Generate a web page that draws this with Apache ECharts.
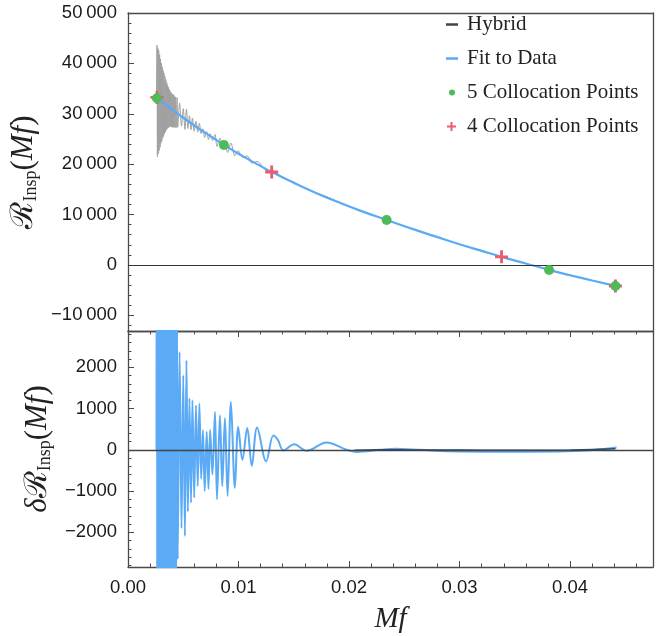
<!DOCTYPE html>
<html><head><meta charset="utf-8">
<script src="https://cdn.jsdelivr.net/npm/echarts@6/dist/echarts.min.js"></script>
<style>html,body{margin:0;padding:0;background:#fff}#c{width:670px;height:636px}</style>
</head><body><div id="c"></div>
<script>
// ---------- data ----------
const xTickValues = [0, 0.01, 0.02, 0.03, 0.04];
const xTickLabels = ['0.00', '0.01', '0.02', '0.03', '0.04'];
const xMinorTicks = [0.002, 0.004, 0.006, 0.008, 0.012, 0.014, 0.016, 0.018, 0.022, 0.024, 0.026, 0.028, 0.032, 0.034, 0.036, 0.038, 0.042, 0.044, 0.046];

const topYTicks = [-10000, 0, 10000, 20000, 30000, 40000, 50000];
const topYTickLabels = ['\u221210\u2009000', '0', '10\u2009000', '20\u2009000', '30\u2009000', '40\u2009000', '50\u2009000'];
const topYMinor = [-12000, -8000, -6000, -4000, -2000, 2000, 4000, 6000, 8000, 12000, 14000, 16000, 18000, 22000, 24000, 26000, 28000, 32000, 34000, 36000, 38000, 42000, 44000, 46000, 48000];

const botYTicks = [-2000, -1000, 0, 1000, 2000];
const botYTickLabels = ['\u22122000', '\u22121000', '0', '1000', '2000'];
const botYMinor = [-2800, -2600, -2400, -2200, -1800, -1600, -1400, -1200, -800, -600, -400, -200, 200, 400, 600, 800, 1200, 1400, 1600, 1800, 2200, 2400, 2600, 2800];

const fitX = [0.0026, 0.003, 0.004, 0.005, 0.006, 0.007, 0.008, 0.0087, 0.010, 0.011, 0.012, 0.013, 0.015, 0.017, 0.019, 0.021, 0.0234, 0.026, 0.028, 0.030, 0.032, 0.0338, 0.036, 0.0381, 0.040, 0.042, 0.0441];
const fitY = [33180, 32550, 30850, 29230, 27680, 26200, 24780, 23810, 22080, 20830, 19620, 18460, 16300, 14300, 12480, 10780, 8930, 6960, 5520, 4120, 2790, 1620, 300, -980, -2030, -3090, -4160];

const col5X = [0.00262, 0.00868, 0.0234, 0.0381, 0.0441];
const col5Y = [33100, 23810, 8930, -980, -4160];
const col4X = [0.00262, 0.0130, 0.0338, 0.0441];
const col4Y = [33250, 18450, 1620, -4160];

const hybridPts = [
[0.00258,33200],[0.00262,43630],[0.00266,21460],[0.00270,43000],[0.00274,22030],[0.00278,42560],
[0.00282,22700],[0.00286,41730],[0.00290,23360],[0.00294,40890],[0.00298,24130],[0.00302,40060],
[0.00306,24590],[0.00310,39330],[0.00314,25160],[0.00318,38590],[0.00322,25530],[0.00326,38060],
[0.00330,26000],[0.00334,37430],[0.00338,26360],[0.00342,36790],[0.00346,26730],[0.00350,36260],
[0.00354,26990],[0.00358,35730],[0.00362,27160],[0.00366,35290],[0.00370,27320],[0.00374,34860],
[0.00378,27390],[0.00382,34520],[0.00386,27460],[0.00390,34190],[0.00394,27420],[0.00398,33960],
[0.00402,27290],[0.00406,33920],[0.00410,27360],[0.00414,33690],[0.00418,27320],[0.00422,33460],
[0.00426,27290],[0.00430,33320],[0.00436,27220],[0.00444,33200],[0.00450,27350],[0.00467,32100],
[0.00484,27550],[0.00500,31010],[0.00515,26890],[0.00529,30940],[0.00542,27070],[0.00556,29610],
[0.00570,26870],[0.00583,29150],[0.00599,26550],[0.00615,28550],[0.00631,26360],[0.00646,28130],
[0.00662,26070],[0.00678,27010],[0.00694,25290],[0.00712,26460],[0.00728,24840],[0.00743,26060],
[0.00764,24690],[0.00787,25900],[0.00805,23530],[0.00832,25190],[0.00853,23180],[0.00877,24510],
[0.00901,22320],[0.00931,24210],[0.00967,21680],[0.00997,22680],[0.01035,21410],[0.01079,21630],
[0.01120,20210],[0.01168,20560],[0.01250,18760],[0.01315,18650],[0.01356,18100],[0.01406,17315],
[0.01503,16400],[0.01616,15075],[0.01797,13570],[0.01978,11800],[0.02100,10780],[0.02340,8930],
[0.02600,6960],[0.03000,4120],[0.03380,1620],[0.03810,-980],[0.04410,-4160]
];

const residualPts = [
[0.00258,0],[0.00262,10500],[0.00266,-11600],[0.00270,10000],[0.00274,-10900],[0.00278,9700],
[0.00282,-10100],[0.00286,9000],[0.00290,-9300],[0.00294,8300],[0.00298,-8400],[0.00302,7600],
[0.00306,-7800],[0.00310,7000],[0.00314,-7100],[0.00318,6400],[0.00322,-6600],[0.00326,6000],
[0.00330,-6000],[0.00334,5500],[0.00338,-5500],[0.00342,5000],[0.00346,-5000],[0.00350,4600],
[0.00354,-4600],[0.00358,4200],[0.00362,-4300],[0.00366,3900],[0.00370,-4000],[0.00374,3600],
[0.00378,-3800],[0.00382,3400],[0.00386,-3600],[0.00390,3200],[0.00394,-3500],[0.00398,3100],
[0.00402,-3500],[0.00406,3200],[0.00410,-3300],[0.00414,3100],[0.00418,-3200],[0.00422,3000],
[0.00426,-3100],[0.00430,3000],[0.00436,-3000],[0.00444,3100],[0.00450,-2650],[0.00467,2370],
[0.00484,-1900],[0.00500,1810],[0.00515,-2090],[0.00529,2170],[0.00542,-1500],[0.00556,1250],
[0.00570,-1280],[0.00583,1200],[0.00599,-1160],[0.00615,1080],[0.00631,-880],[0.00646,1120],
[0.00662,-700],[0.00678,480],[0.00694,-1000],[0.00712,440],[0.00728,-950],[0.00743,480],
[0.00764,-600],[0.00787,920],[0.00805,-1200],[0.00832,840],[0.00853,-880],[0.00877,770],
[0.00901,-1120],[0.00931,1160],[0.00967,-920],[0.00997,560],[0.01035,-240],[0.01079,530],
[0.01120,-390],[0.01168,540],[0.01250,-280],[0.01315,350],[0.01356,240],[0.01406,-15],
[0.01503,135],[0.01616,-25],[0.01797,180],[0.01978,0],[0.02070,-50],[0.02278,0],
[0.02414,25],[0.02640,0],[0.02910,-35],[0.03360,-45],[0.03900,-40],[0.04180,-10],[0.04420,55]
];

const darkResidualPts = [[0.0205,-10],[0.0228,5],[0.026,0],[0.030,-5],[0.035,-8],[0.040,0],[0.0441,25]];

// ---------- chart ----------
const BLUE = '#5aaaf5', GRAY = '#a0a0a0', GREEN = '#4cbb58', RED = '#eb5a6e', FRAME = '#4a4a4a';
const X_MIN = 0, X_MAX = 0.0475;
const plusPath = 'path://M3.9,0H6.1V3.9H10V6.1H6.1V10H3.9V6.1H0V3.9H3.9Z';
const tickFont = { fontFamily: 'Liberation Sans', fontSize: 18.5, color: '#1a1a1a' };
const lineStyleFrame = { color: FRAME, width: 1.3 };

function lookup(vals, labels) { return v => { const i = vals.findIndex(t => Math.abs(t - v) < 1e-9); return i >= 0 ? labels[i] : ''; }; }

function frameAxis(type, grid, pos, min, max) {
  return { type: 'value', gridIndex: grid, position: pos, min, max,
    axisLine: { show: true, onZero: false, lineStyle: lineStyleFrame },
    axisTick: { show: false }, axisLabel: { show: false }, splitLine: { show: false } };
}
function tickAxis(grid, pos, min, max, vals, len) {
  return { type: 'value', gridIndex: grid, position: pos, min, max,
    axisLine: { show: false, onZero: false },
    axisTick: { show: true, inside: true, length: len, customValues: vals, lineStyle: { color: FRAME, width: 1 } },
    axisLabel: { show: false }, splitLine: { show: false } };
}

const TOP_MIN = -13100, TOP_MAX = 50000, BOT_MIN = -2840, BOT_MAX = 2880;

const xAxes = [
  frameAxis('x', 0, 'bottom', X_MIN, X_MAX),
  frameAxis('x', 0, 'top', X_MIN, X_MAX),
  Object.assign(tickAxis(1, 'bottom', X_MIN, X_MAX, xTickValues, 6), {
    axisLine: { show: true, onZero: false, lineStyle: lineStyleFrame },
    axisLabel: Object.assign({ show: true, margin: 11, customValues: xTickValues, formatter: lookup(xTickValues, xTickLabels) }, tickFont),
    name: '{i|Mf}', nameLocation: 'middle', nameGap: 38,
    nameTextStyle: { rich: { i: { fontFamily: 'Liberation Serif', fontStyle: 'italic', fontSize: 29, color: '#222' } } }
  }),
  tickAxis(1, 'bottom', X_MIN, X_MAX, xMinorTicks, 3.5),
  Object.assign(tickAxis(1, 'top', X_MIN, X_MAX, xTickValues, 6), { axisLine: { show: true, onZero: false, lineStyle: lineStyleFrame } }),
  tickAxis(1, 'top', X_MIN, X_MAX, xMinorTicks, 3.5)
];

const yNameRich = {
  d: { fontFamily: 'Liberation Serif', fontStyle: 'italic', fontSize: 31, color: '#222', lineHeight: 32 },
  r: { fontFamily: 'DejaVu Serif', fontSize: 31, color: '#222', lineHeight: 32 },
  sub: { fontFamily: 'Liberation Serif', fontSize: 18, color: '#222', lineHeight: 17, verticalAlign: 'bottom' },
  p: { fontFamily: 'Liberation Serif', fontSize: 31, color: '#222', lineHeight: 32 },
  i: { fontFamily: 'Liberation Serif', fontStyle: 'italic', fontSize: 31, color: '#222', lineHeight: 32 }
};

const yAxes = [
  Object.assign(tickAxis(0, 'left', TOP_MIN, TOP_MAX, topYTicks, 6), {
    axisLine: { show: true, onZero: false, lineStyle: lineStyleFrame },
    axisLabel: Object.assign({ show: true, margin: 11, customValues: topYTicks, formatter: lookup(topYTicks, topYTickLabels) }, tickFont),
    name: '{r|ℛ}{sub|Insp}{p|(}{i|Mf}{p|)}', nameLocation: 'middle', nameRotate: 90, nameGap: 68,
    nameTextStyle: { rich: yNameRich }
  }),
  tickAxis(0, 'left', TOP_MIN, TOP_MAX, topYMinor, 3.5),
  frameAxis('y', 0, 'right', TOP_MIN, TOP_MAX),
  Object.assign(tickAxis(1, 'left', BOT_MIN, BOT_MAX, botYTicks, 6), {
    axisLine: { show: true, onZero: false, lineStyle: lineStyleFrame },
    axisLabel: Object.assign({ show: true, margin: 11, customValues: botYTicks, formatter: lookup(botYTicks, botYTickLabels) }, tickFont),
    name: '{d|δ}{r|ℛ}{sub|Insp}{p|(}{i|Mf}{p|)}', nameLocation: 'middle', nameRotate: 90, nameGap: 68,
    nameTextStyle: { rich: yNameRich }
  }),
  tickAxis(1, 'left', BOT_MIN, BOT_MAX, botYMinor, 3.5),
  frameAxis('y', 1, 'right', BOT_MIN, BOT_MAX)
];

const legendText = { fontFamily: 'Liberation Serif', fontSize: 21, color: '#222' };
function oneLegend(item, left, top, w, h, padLeft) {
  return { data: [item], left, top, itemWidth: w, itemHeight: h, padding: 0, selectedMode: false,
    textStyle: Object.assign({ padding: [0, 0, 0, padLeft] }, legendText) };
}

const option = {
  animation: false,
  backgroundColor: '#fff',
  grid: [
    { left: 128, right: 17, top: 13, height: 318 },
    { left: 128, right: 17, top: 331, height: 236 }
  ],
  xAxis: xAxes,
  yAxis: yAxes,
  legend: [
    oneLegend({ name: 'Hybrid', icon: 'rect', itemStyle: { color: '#444' } }, 446, 14, 12, 2.5, 4),
    oneLegend({ name: 'Fit to Data', icon: 'rect', itemStyle: { color: BLUE } }, 446, 48, 12, 2.5, 4),
    oneLegend({ name: '5 Collocation Points', icon: 'circle', itemStyle: { color: GREEN } }, 449, 82, 6, 6, 7),
    oneLegend({ name: '4 Collocation Points', icon: plusPath, itemStyle: { color: RED } }, 447, 116, 9, 9, 6)
  ],
  series: [
    { name: 'Hybrid', type: 'line', xAxisIndex: 0, yAxisIndex: 0, data: hybridPts, showSymbol: false, symbol: 'none',
      lineStyle: { color: GRAY, width: 1 }, itemStyle: { color: GRAY }, z: 2, smooth: 0.3 },
    { name: 'Fit to Data', type: 'line', xAxisIndex: 0, yAxisIndex: 0, data: fitX.map((x, i) => [x, fitY[i]]), symbol: 'none',
      lineStyle: { color: BLUE, width: 2.2 }, itemStyle: { color: BLUE }, z: 3, smooth: true },
    { name: 'zeroTop', type: 'line', xAxisIndex: 0, yAxisIndex: 0, data: [], z: 4,
      markLine: { silent: true, symbol: 'none', label: { show: false }, lineStyle: { color: '#333', width: 1.2, type: 'solid' }, data: [{ yAxis: 0 }] } },
    { name: '4 Collocation Points', type: 'scatter', xAxisIndex: 0, yAxisIndex: 0, data: col4X.map((x, i) => [x, col4Y[i]]),
      symbol: plusPath, symbolSize: 13, itemStyle: { color: RED, opacity: 1 }, z: 5 },
    { name: '5 Collocation Points', type: 'scatter', xAxisIndex: 0, yAxisIndex: 0, data: col5X.map((x, i) => [x, col5Y[i]]),
      symbol: 'circle', symbolSize: 10, itemStyle: { color: GREEN, opacity: 1 }, z: 6 },
    { name: 'residual', type: 'line', xAxisIndex: 2, yAxisIndex: 3, data: residualPts, symbol: 'none',
      lineStyle: { color: BLUE, width: 2 }, z: 2, smooth: 0.35, clip: true },
    { name: 'residualDark', type: 'line', xAxisIndex: 2, yAxisIndex: 3, data: darkResidualPts, symbol: 'none',
      lineStyle: { color: '#2b4a6a', width: 1.4 }, z: 3, smooth: true },
    { name: 'zeroBot', type: 'line', xAxisIndex: 2, yAxisIndex: 3, data: [], z: 4,
      markLine: { silent: true, symbol: 'none', label: { show: false }, lineStyle: { color: '#444', width: 1.3, type: 'solid' }, data: [{ yAxis: 0 }] } }
  ]
};
const chart = echarts.init(document.getElementById('c'), null, { renderer: 'canvas' });
chart.setOption(option);
</script></body></html>
